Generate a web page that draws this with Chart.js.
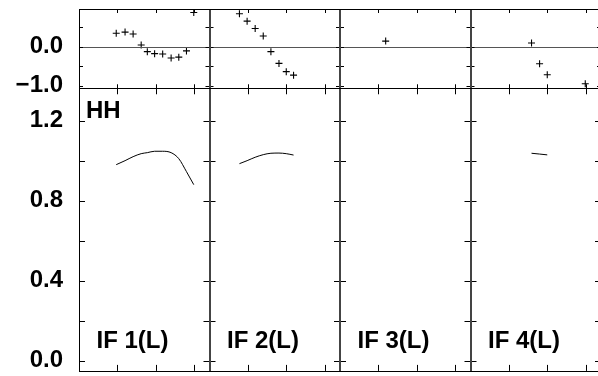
<!DOCTYPE html>
<html>
<head>
<meta charset="utf-8">
<script src="https://cdn.jsdelivr.net/npm/chart.js@4/dist/chart.umd.min.js"></script>
<style>
  html, body { margin: 0; padding: 0; background: #fff; overflow: hidden; }
  canvas { display: block; }
</style>
</head>
<body>
<canvas id="c" width="610" height="376" style="width:610px;height:376px"></canvas>
<script>
// ---- data ----
const panelLabels = ['IF 1(L)', 'IF 2(L)', 'IF 3(L)', 'IF 4(L)'];
const polLabel = 'HH';

const if1Time  = [0.97, 1.20, 1.41, 1.62, 1.78, 1.97, 2.18, 2.40, 2.60, 2.80, 2.99];
const if1Phase = [0.34, 0.37, 0.32, 0.04, -0.13, -0.18, -0.19, -0.29, -0.27, -0.11, 0.87];
const if1Amp   = [0.98, 1.00, 1.02, 1.035, 1.04, 1.047, 1.047, 1.04, 1.01, 0.945, 0.88];

const if2Time  = [0.78, 0.98, 1.19, 1.40, 1.60, 1.81, 2.00, 2.19];
const if2Phase = [0.84, 0.65, 0.46, 0.27, -0.13, -0.43, -0.64, -0.73];
const if2Amp   = [0.985, 1.00, 1.017, 1.03, 1.037, 1.038, 1.035, 1.028];

const if3Time  = [1.19];
const if3Phase = [0.14];
const if3Amp   = [null];

const if4Time  = [1.59, 1.80, 2.00, 2.99];
const if4Phase = [0.09, -0.44, -0.72, -0.95];
const if4Amp   = [1.037, 1.033, 1.029, null];

const timeMin = 0, timeMax = 3.4;
const xTickValues = [1, 2, 3];
const phaseMin = -1.065, phaseMax = 0.96;
const phaseLabelValues = [-1, 0];
const phaseTickValues = [-1, -0.5, 0, 0.5];
const ampMin = -0.0515, ampMax = 1.362;
const ampLabelValues = [0, 0.4, 0.8, 1.2];
const ampTickValues = [0, 0.2, 0.4, 0.6, 0.8, 1.0, 1.2];

// ---- build datasets ----
const times = [if1Time, if2Time, if3Time, if4Time];
const phases = [if1Phase, if2Phase, if3Phase, if4Phase];
const amps = [if1Amp, if2Amp, if3Amp, if4Amp];
const xIds = ['x1', 'x2', 'x3', 'x4'];

const datasets = [];
times.forEach((t, i) => {
  datasets.push({
    type: 'scatter',
    data: t.map((v, k) => ({ x: v, y: phases[i][k] })),
    xAxisID: xIds[i], yAxisID: 'yT',
    pointStyle: 'cross', pointRadius: 3.5, pointBorderWidth: 1.1,
    borderColor: '#000', backgroundColor: '#000', showLine: false
  });
  datasets.push({
    type: 'line',
    data: t.map((v, k) => ({ x: v, y: amps[i][k] })),
    xAxisID: xIds[i], yAxisID: 'yB',
    borderColor: '#000', borderWidth: 1, pointRadius: 0,
    cubicInterpolationMode: 'monotone', spanGaps: false, fill: false
  });
});

const FONT = '"Liberation Sans", Arial, Helvetica, sans-serif';

const framePlugin = {
  id: 'frame',
  afterDatasetsDraw(chart) {
    const ctx = chart.ctx;
    const yT = chart.scales.yT, yB = chart.scales.yB;
    const rows = [
      { s: yT, ticks: phaseTickValues, len: 4 },
      { s: yB, ticks: ampTickValues, len: 6 }
    ];
    ctx.save();
    // zero line in phase row
    const y0 = Math.round(yT.getPixelForValue(0)) + 0.5;
    ctx.strokeStyle = '#555'; ctx.lineWidth = 1;
    ctx.beginPath();
    ctx.moveTo(chart.chartArea.left, y0); ctx.lineTo(chart.chartArea.right, y0);
    ctx.stroke();

    // inward ticks
    ctx.strokeStyle = '#000'; ctx.lineWidth = 1;
    ctx.beginPath();
    xIds.forEach(id => {
      const xs = chart.scales[id];
      rows.forEach(r => {
        const ys = r.s;
        xTickValues.forEach(v => {
          const px = Math.round(xs.getPixelForValue(v)) + 0.5;
          ctx.moveTo(px, ys.top); ctx.lineTo(px, ys.top + r.len);
          ctx.moveTo(px, ys.bottom); ctx.lineTo(px, ys.bottom - r.len);
        });
        r.ticks.forEach(v => {
          const py = Math.round(ys.getPixelForValue(v)) + 0.5;
          ctx.moveTo(xs.left, py); ctx.lineTo(xs.left + r.len, py);
          ctx.moveTo(xs.right, py); ctx.lineTo(xs.right - r.len, py);
        });
      });
    });
    ctx.stroke();

    // vertical dividers
    ctx.strokeStyle = '#444'; ctx.lineWidth = 2;
    ctx.beginPath();
    xIds.slice(0, 3).forEach(id => {
      const px = Math.round(chart.scales[id].right);
      ctx.moveTo(px, chart.chartArea.top); ctx.lineTo(px, chart.chartArea.bottom);
    });
    ctx.stroke();

    // outer frame + row divider
    ctx.strokeStyle = '#000'; ctx.lineWidth = 1;
    const a = chart.chartArea;
    const L = Math.round(a.left) + 0.5, R = Math.round(a.right) + 0.5;
    const T = Math.round(a.top) + 0.5, B = Math.round(a.bottom) + 0.5;
    ctx.strokeRect(L, T, R - L, B - T);
    const yd = Math.round(yT.bottom) + 0.5;
    ctx.beginPath(); ctx.moveTo(a.left, yd); ctx.lineTo(a.right, yd); ctx.stroke();

    // labels
    ctx.fillStyle = '#000';
    ctx.font = 'bold 24px ' + FONT;
    ctx.textAlign = 'left'; ctx.textBaseline = 'alphabetic';
    const x1 = chart.scales.x1;
    ctx.fillText(polLabel, x1.left + 7, yB.top + 29.5);
    xIds.forEach((id, i) => {
      const xs = chart.scales[id];
      ctx.fillText(panelLabels[i], xs.left + 17.5, yB.bottom - 23);
    });
    ctx.restore();
  }
};

function yAxis(weight, stackWeight, min, max, labels) {
  return {
    type: 'linear', position: 'left', stack: 'rows', stackWeight: stackWeight, weight: weight,
    min: min, max: max,
    grid: { display: false, drawTicks: false },
    border: { display: false },
    ticks: {
      autoSkip: false, padding: 16, color: '#000',
      font: { family: FONT, size: 24, weight: 'bold' },
      callback: v => (v < 0 ? '\u2212' : '') + Math.abs(Number(v)).toFixed(1)
    },
    afterBuildTicks: s => { s.ticks = labels.map(v => ({ value: v })); },
    afterFit: s => { s.width = 79; s.paddingTop = 0; s.paddingBottom = 0; s.paddingLeft = 0; s.paddingRight = 0; }
  };
}

const scales = {
  yT: yAxis(2, 79.3, phaseMin, phaseMax, phaseLabelValues),
  yB: yAxis(1, 282.7, ampMin, ampMax, ampLabelValues)
};
xIds.forEach((id, i) => {
  scales[id] = {
    type: 'linear', position: 'bottom', stack: 'cols', stackWeight: 1, weight: i + 1,
    min: timeMin, max: timeMax, display: false,
    afterFit: s => { s.height = 0; s.paddingLeft = 0; s.paddingRight = 0; s.paddingTop = 0; s.paddingBottom = 0; }
  };
});

new Chart(document.getElementById('c').getContext('2d'), {
  type: 'scatter',
  data: { datasets },
  options: {
    responsive: false, animation: false,
    layout: { padding: { top: 9, bottom: 5, left: 0, right: 9 } },
    plugins: { legend: { display: false }, tooltip: { enabled: false } },
    scales: scales
  },
  plugins: [framePlugin]
});
</script>
</body>
</html>
